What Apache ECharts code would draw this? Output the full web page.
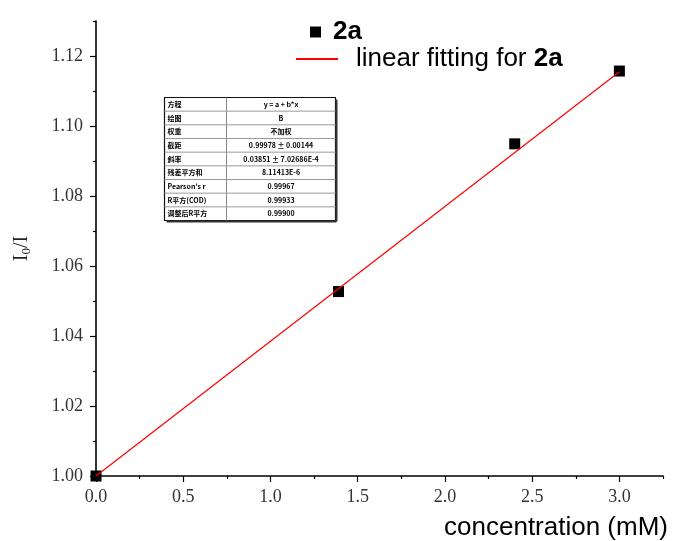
<!DOCTYPE html>
<html>
<head>
<meta charset="utf-8">
<script src="https://cdn.jsdelivr.net/npm/echarts@6/dist/echarts.min.js"></script>
<style>
  html, body { margin: 0; padding: 0; background: #fff; }
  #chart { width: 673px; height: 541px; }
</style>
</head>
<body>
<div id="chart"></div>
<script>
// measured points (concentration in mM vs I0/I)
const concentration = [0, 1.39, 2.4, 3.0];
const ratio = [1.000, 1.0527, 1.0949, 1.1157];
// linear fit end points
const fitX = [0, 3.0];
const fitY = [1.000, 1.1155];

// tick positions
const xMajor = [0, 0.5, 1.0, 1.5, 2.0, 2.5, 3.0];
const xMinor = [0.25, 0.75, 1.25, 1.75, 2.25, 2.75, 3.25];
const yMajor = [1.00, 1.02, 1.04, 1.06, 1.08, 1.10, 1.12];
const yMinor = [1.01, 1.03, 1.05, 1.07, 1.09, 1.11, 1.13];

// fit summary table (Origin style)
const tableKeys = ['方程', '绘图', '权重', '截距', '斜率', '残差平方和', "Pearson's r", 'R平方(COD)', '调整后R平方'];
const tableVals = ['y = a + b*x', 'B', '不加权', '0.99978 ± 0.00144', '0.03851 ± 7.02686E-4', '8.11413E-6', '0.99967', '0.99933', '0.99900'];

const serif = 'Liberation Serif';
const sans = 'Liberation Sans';

function buildTable () {
  let w = 171, h = 123, colX = 62
  let rowH = h / tableKeys.length
  let kids = [
    { type: 'rect', shape: { x: 0, y: 0, width: w, height: h }, style: { fill: '#fff', stroke: '#111', lineWidth: 1.2 } },
    { type: 'line', shape: { x1: w + 1, y1: 2, x2: w + 1, y2: h + 1 }, style: { stroke: '#333', lineWidth: 2 } },
    { type: 'line', shape: { x1: 2, y1: h + 1, x2: w + 1, y2: h + 1 }, style: { stroke: '#333', lineWidth: 2 } },
    { type: 'line', shape: { x1: colX, y1: 0, x2: colX, y2: h }, style: { stroke: '#888', lineWidth: 1 } }
  ]
  for (let i = 0; i < tableKeys.length; i++) {
    if (i > 0) {
      kids.push({ type: 'line', shape: { x1: 0, y1: i * rowH, x2: w, y2: i * rowH }, style: { stroke: '#999', lineWidth: 1 } })
    }
    kids.push({
      type: 'text', x: 3, y: i * rowH + rowH / 2,
      style: { text: tableKeys[i], font: 'bold 7px "Noto Sans CJK SC"', fill: '#000', verticalAlign: 'middle' }
    })
    kids.push({
      type: 'text', x: (colX + w) / 2, y: i * rowH + rowH / 2,
      style: { text: tableVals[i], font: 'bold 7px "Noto Sans CJK SC"', fill: '#000', align: 'center', verticalAlign: 'middle' }
    })
  }
  return { type: 'group', left: 162, top: 95, children: kids }
}

let chart = echarts.init(document.getElementById('chart'))
let option = {
  animation: false,
  backgroundColor: '#fff',
  grid: { left: 96, right: 10, top: 21, bottom: 64 },
  legend: [
    {
      data: ['2a'], left: 310, top: 19, padding: 0,
      itemWidth: 11, itemHeight: 11,
      formatter: '{s|}{b|2a}',
      textStyle: { rich: { s: { width: 7 }, b: { fontFamily: sans, fontSize: 26, fontWeight: 'bold', color: '#000' } } }
    },
    {
      data: [{ name: 'linear fitting for 2a', icon: 'rect' }], left: 296, top: 46, padding: 0,
      itemWidth: 42, itemHeight: 2,
      formatter: '{s|}{n|linear fitting for }{b|2a}',
      textStyle: {
        rich: {
          s: { width: 13 },
          n: { fontFamily: sans, fontSize: 26, color: '#000' },
          b: { fontFamily: sans, fontSize: 26, fontWeight: 'bold', color: '#000' }
        }
      }
    }
  ],
  xAxis: [
    {
      type: 'value', min: 0, max: 3.25, interval: 0.5, position: 'bottom',
      name: 'concentration (mM)', nameLocation: 'end', nameGap: 5,
      nameTextStyle: { fontFamily: sans, fontSize: 26, color: '#000', align: 'right', verticalAlign: 'top', padding: [39, 0, 0, 0] },
      splitLine: { show: false },
      axisLine: { lineStyle: { color: '#000', width: 1.6 } },
      axisTick: { length: 6, customValues: xMajor, lineStyle: { color: '#000', width: 1.2 } },
      axisLabel: {
        customValues: xMajor, margin: 12,
        fontFamily: serif, fontSize: 18, color: '#333',
        formatter: v => v.toFixed(1)
      }
    },
    {
      type: 'value', min: 0, max: 3.25, position: 'bottom',
      splitLine: { show: false },
      axisLine: { show: false },
      axisTick: { length: 3, customValues: xMinor, lineStyle: { color: '#000', width: 1.2 } },
      axisLabel: { show: false }
    }
  ],
  yAxis: [
    {
      type: 'value', min: 1.0, max: 1.13, interval: 0.02, position: 'left',
      name: '{i|I}{s|0}{i|/I}', nameLocation: 'middle', nameGap: 62, nameRotate: 90,
      nameTextStyle: {
        rich: {
          i: { fontFamily: serif, fontSize: 20, color: '#222', lineHeight: 24 },
          s: { fontFamily: serif, fontSize: 13, color: '#222', lineHeight: 24, padding: [9, 0, 0, 0] }
        }
      },
      splitLine: { show: false },
      axisLine: { lineStyle: { color: '#000', width: 1.6 } },
      axisTick: { length: 6, customValues: yMajor, lineStyle: { color: '#000', width: 1.2 } },
      axisLabel: {
        customValues: yMajor, margin: 13,
        fontFamily: serif, fontSize: 18, color: '#333',
        formatter: v => v.toFixed(2)
      }
    },
    {
      type: 'value', min: 1.0, max: 1.13, position: 'left',
      splitLine: { show: false },
      axisLine: { show: false },
      axisTick: { length: 3, customValues: yMinor, lineStyle: { color: '#000', width: 1.2 } },
      axisLabel: { show: false }
    }
  ],
  series: [
    {
      name: '2a',
      type: 'scatter',
      symbol: 'rect',
      symbolSize: 11,
      itemStyle: { color: '#000', opacity: 1 },
      data: concentration.map((x, i) => [x, ratio[i]])
    },
    {
      name: 'linear fitting for 2a',
      type: 'line',
      symbol: 'none',
      showSymbol: false,
      lineStyle: { color: '#ff0000', width: 1.2 },
      itemStyle: { color: '#ff0000' },
      data: fitX.map((x, i) => [x, fitY[i]])
    }
  ],
  graphic: [buildTable()]
}
chart.setOption(option)
</script>
</body>
</html>
